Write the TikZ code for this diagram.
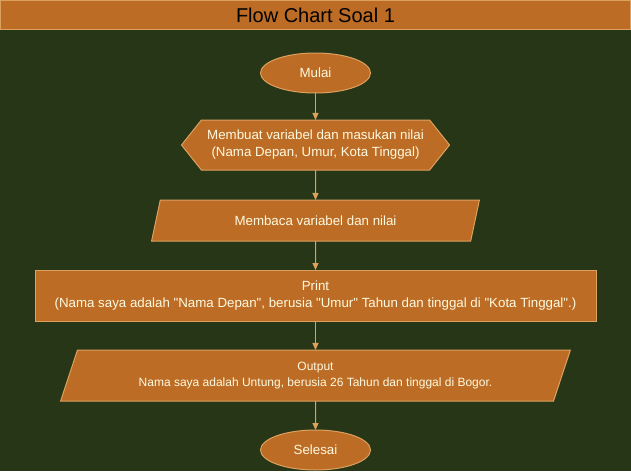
\documentclass[tikz,border=0pt]{standalone}
\usepackage{fontspec}
\setmainfont{Liberation Sans}
\usetikzlibrary{shapes.geometric}
\usetikzlibrary{shapes.symbols}
\usetikzlibrary{arrows.meta}
\definecolor{bg1}{RGB}{40,54,24}
\definecolor{f1}{RGB}{188,108,37}
\definecolor{l1}{RGB}{221,161,94}
\definecolor{t1}{RGB}{254,250,224}
\newcommand{\dq}{\textquotedbl}

\begin{document}
\begin{tikzpicture}[
    x=1pt, y=-1pt,
    font=\fontsize{13.3}{17}\selectfont,
    l/.style={
        line width=1pt,
        color=l1,
        -{Triangle[length=7pt,width=6pt]}
    },
    box/.style={
        fill=f1, draw=l1, line width=1pt, text=t1,
        align=center, inner sep=0pt, outer sep=0pt
    },
    term/.style={box, ellipse, minimum width=110pt, minimum height=40pt},
    prep/.style={box, signal, signal to=west and east, signal pointer angle=103,
        minimum width=268pt, minimum height=50pt},
    io/.style={box, trapezium, trapezium left angle=65, trapezium right angle=115,
        trapezium stretches=true},
    proc/.style={box, rectangle, minimum width=561pt, minimum height=51pt}
]

    \useasboundingbox (0,0) rectangle (631,471);
    \fill [bg1] (0,0) rectangle (631,471);

    \node [box, text=black, font=\fontsize{20}{24}\selectfont,
        minimum width=630pt, minimum height=29pt] (T) at (315.5,15) {Flow Chart Soal 1};

    \node [term] (A) at (315.5,  73) {Mulai};
    \node [prep] (B) at (315.5, 145) {Membuat variabel dan masukan nilai\\(Nama Depan, Umur, Kota Tinggal)};
    \node [io, minimum width=328pt, minimum height=41pt] (C) at (315.5, 220.5) {Membaca variabel dan nilai};
    \node [proc] (D) at (315.5, 295.5) {Print\\(Nama saya adalah \dq Nama Depan\dq, berusia \dq Umur\dq{} Tahun dan tinggal di \dq Kota Tinggal\dq.)};
    \node [io, minimum width=510pt, minimum height=51pt,
        font=\fontsize{12}{16}\selectfont] (E) at (315.5, 375.5) {Output\\Nama saya adalah Untung, berusia 26 Tahun dan tinggal di Bogor.};
    \node [term] (F) at (315.5, 450) {Selesai};

    \draw (A) edge [l] (B);
    \draw (B) edge [l] (C);
    \draw (C) edge [l] (D);
    \draw (D) edge [l] (E);
    \draw (E) edge [l] (F);

\end{tikzpicture}
\end{document}
